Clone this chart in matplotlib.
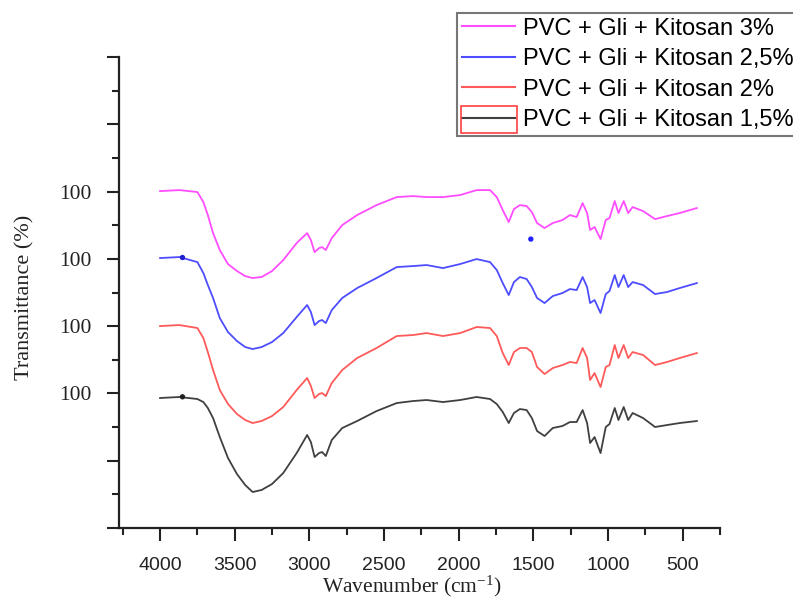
import matplotlib
matplotlib.use("Agg")
import matplotlib.pyplot as plt
from matplotlib.ticker import FixedLocator, FixedFormatter, MultipleLocator
from matplotlib.patches import Rectangle

# ---------------- data ----------------
wavenumber = [4000, 3870, 3750, 3710, 3680, 3645, 3600, 3545, 3485, 3430,
              3380, 3320, 3250, 3175, 3085, 3015, 2990, 2965, 2935, 2915,
              2890, 2850, 2780, 2680, 2550, 2415, 2305, 2215, 2105, 1990,
              1880, 1790, 1745, 1705, 1665, 1630, 1590, 1545, 1510, 1475,
              1425, 1370, 1305, 1255, 1210, 1170, 1140, 1120, 1090, 1050,
              1015, 990, 955, 930, 895, 865, 835, 765, 685, 605, 520, 405]

kitosan_3 = [5.007, 5.022, 4.993, 4.844, 4.651, 4.383, 4.131, 3.923, 3.819, 3.744,
             3.715, 3.730, 3.819, 3.982, 4.235, 4.383, 4.279, 4.101, 4.160, 4.175,
             4.131, 4.309, 4.502, 4.651, 4.799, 4.918, 4.933, 4.918, 4.918, 4.948,
             5.022, 5.022, 4.918, 4.725, 4.547, 4.740, 4.799, 4.785, 4.695, 4.532,
             4.458, 4.532, 4.577, 4.651, 4.621, 4.829, 4.681, 4.428, 4.473, 4.294,
             4.577, 4.606, 4.859, 4.681, 4.859, 4.681, 4.770, 4.710, 4.591, 4.636,
             4.681, 4.755]

kitosan_2_5 = [4.012, 4.027, 3.952, 3.789, 3.611, 3.418, 3.120, 2.912, 2.779, 2.689,
               2.660, 2.689, 2.764, 2.897, 3.135, 3.314, 3.210, 3.016, 3.076, 3.091,
               3.046, 3.239, 3.418, 3.566, 3.715, 3.878, 3.893, 3.908, 3.863, 3.923,
               3.997, 3.952, 3.834, 3.640, 3.462, 3.655, 3.730, 3.700, 3.581, 3.418,
               3.343, 3.447, 3.492, 3.551, 3.536, 3.730, 3.581, 3.343, 3.388, 3.195,
               3.477, 3.522, 3.759, 3.581, 3.759, 3.581, 3.655, 3.611, 3.477, 3.507,
               3.566, 3.640]

kitosan_2 = [3.001, 3.016, 2.972, 2.823, 2.615, 2.348, 2.051, 1.843, 1.694, 1.605,
             1.560, 1.590, 1.664, 1.798, 2.051, 2.229, 2.110, 1.932, 1.991, 2.006,
             1.961, 2.155, 2.348, 2.526, 2.675, 2.853, 2.868, 2.897, 2.853, 2.897,
             2.987, 2.972, 2.853, 2.600, 2.422, 2.615, 2.675, 2.675, 2.615, 2.392,
             2.288, 2.377, 2.422, 2.467, 2.452, 2.675, 2.526, 2.199, 2.303, 2.095,
             2.392, 2.422, 2.719, 2.526, 2.719, 2.526, 2.615, 2.571, 2.422, 2.467,
             2.526, 2.600]

kitosan_1_5 = [1.932, 1.947, 1.917, 1.872, 1.783, 1.634, 1.352, 1.040, 0.802, 0.639,
               0.535, 0.565, 0.654, 0.817, 1.114, 1.382, 1.278, 1.055, 1.114, 1.129,
               1.070, 1.308, 1.486, 1.590, 1.738, 1.857, 1.887, 1.902, 1.872, 1.902,
               1.947, 1.917, 1.842, 1.724, 1.560, 1.709, 1.768, 1.753, 1.634, 1.441,
               1.367, 1.486, 1.516, 1.575, 1.575, 1.753, 1.560, 1.263, 1.352, 1.114,
               1.501, 1.545, 1.783, 1.605, 1.798, 1.605, 1.709, 1.634, 1.501, 1.530,
               1.560, 1.590]

labels = ["PVC + Gli + Kitosan 3%", "PVC + Gli + Kitosan 2,5%",
          "PVC + Gli + Kitosan 2%", "PVC + Gli + Kitosan 1,5%"]
colors = ["#ff4dff", "#4d4dff", "#ff5a5a", "#404040"]

# stray marker points visible in the reference
dot_wn = [3850, 3850, 1517]
dot_val = [4.02, 1.95, 4.294]
dot_col = ["#2020d0", "#202020", "#2020ff"]

y_tick_values = [0, 1, 2, 3, 4, 5, 6, 7]
y_tick_labels = ["", "", "100", "100", "100", "100", "", ""]
x_tick_values = [4000, 3500, 3000, 2500, 2000, 1500, 1000, 500]

# ---------------- figure ----------------
plt.rcParams["mathtext.fontset"] = "custom"
plt.rcParams["mathtext.rm"] = "Liberation Serif"
plt.rcParams["mathtext.it"] = "Liberation Serif:italic"

fig = plt.figure(figsize=(7.93, 6.03), dpi=100)
ax = fig.add_axes([119 / 793, 75 / 603, 601 / 793, 471 / 603])

series = [kitosan_3, kitosan_2_5, kitosan_2, kitosan_1_5]
handles = []
for vals, lab, col in zip(series, labels, colors):
    h, = ax.plot(wavenumber, vals, color=col, lw=1.3, label=lab)
    handles.append(h)
ax.scatter(dot_wn, dot_val, s=8, c=dot_col, zorder=3)

ax.set_xlim(4275, 250)
ax.set_ylim(0, 7)

for s in ["top", "right"]:
    ax.spines[s].set_visible(False)
for s in ["left", "bottom"]:
    ax.spines[s].set_linewidth(1.6)
    ax.spines[s].set_color("#222222")

ax.xaxis.set_major_locator(FixedLocator(x_tick_values))
ax.xaxis.set_minor_locator(MultipleLocator(250))
ax.yaxis.set_major_locator(FixedLocator(y_tick_values))
ax.yaxis.set_major_formatter(FixedFormatter(y_tick_labels))
ax.yaxis.set_minor_locator(MultipleLocator(0.5))

ax.tick_params(axis="x", which="major", direction="out", length=9, width=1.5,
               pad=12, labelsize=14, colors="#222222")
ax.tick_params(axis="x", which="minor", direction="out", length=5, width=1.5,
               colors="#222222")
ax.tick_params(axis="y", which="major", direction="out", length=9, width=1.5,
               pad=11, labelsize=15.5, colors="#222222")
ax.tick_params(axis="y", which="minor", direction="out", length=5, width=1.5,
               colors="#222222")
for t in ax.get_xticklabels():
    t.set_fontfamily("Liberation Sans")
for t in ax.get_yticklabels():
    t.set_fontfamily("Liberation Serif")

ax.set_xlabel("Wavenumber (cm$^{-1}$)", family="Liberation Serif", fontsize=15.5,
              color="#222222")
ax.xaxis.set_label_coords(0.487, -0.098)
ax.set_ylabel("Transmittance (%)", family="Liberation Serif", fontsize=16,
              color="#222222")
ax.yaxis.set_label_coords(-0.14, 0.49)

leg = fig.legend(handles=handles, labels=labels, loc="upper left",
                 bbox_to_anchor=(457 / 793, 1 - 13 / 603), borderaxespad=0,
                 prop={"family": "Liberation Sans", "size": 17},
                 frameon=True, fancybox=False, shadow=False,
                 borderpad=0.2, handlelength=2.25, handletextpad=0.35,
                 labelspacing=0.36)
leg.get_frame().set_edgecolor("#555555")
leg.get_frame().set_linewidth(1.5)
for lh in leg.get_lines():
    lh.set_linewidth(1.5)

fig.patches.append(Rectangle((461 / 793, 1 - 133 / 603), 56 / 793, 27 / 603,
                             transform=fig.transFigure, fill=False,
                             edgecolor="#ff4040", lw=1.2, zorder=20))

fig.savefig("out.png", dpi=100)
